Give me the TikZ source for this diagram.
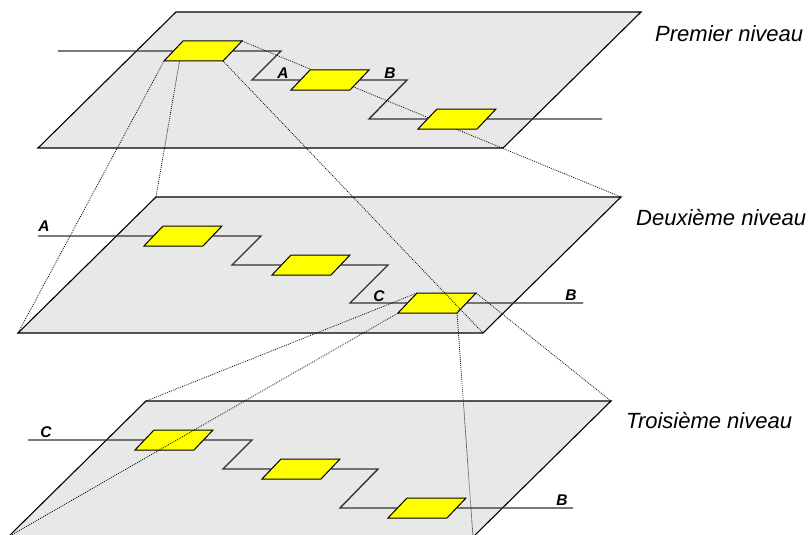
\documentclass[tikz,border=0pt]{standalone}
\usepackage{fontspec}
\setsansfont{Liberation Sans}
\usepackage{tikz}
\usetikzlibrary{calc}
\definecolor{planecolor}{HTML}{E8E8E8}
\definecolor{wirecolor}{HTML}{333333}
\definecolor{chipcolor}{HTML}{FFFF00}
\tikzset{
  plane/.style={fill=planecolor,draw=black,line width=1.1pt,line join=miter},
  wire/.style={draw=wirecolor,line width=1.4pt},
  chip/.style={fill=chipcolor,draw=black,line width=1pt},
  sight/.style={draw=black,line width=0.75pt,dash pattern=on 0.9pt off 1.1pt},
  tag/.style={font=\sffamily\bfseries\itshape\fontsize{15.5}{18}\selectfont,anchor=base,inner sep=0pt},
  level/.style={font=\sffamily\itshape\fontsize{22}{26}\selectfont,anchor=base west,inner sep=0pt}
}
\begin{document}
\begin{tikzpicture}[x=1pt,y=-1pt]
\useasboundingbox (0,0) rectangle (811,535);
\clip (0,0) rectangle (811,535);
%% the three planes
\foreach \p/\x/\y in {p1/38/148, p2/18/333, p3/8/537}{
  \coordinate (\p-bl) at (\x,\y);
  \coordinate (\p-br) at (\x+465,\y);
  \coordinate (\p-tr) at (\x+603,\y-136);
  \coordinate (\p-tl) at (\x+138,\y-136);
  \draw[plane] (\p-bl) -- (\p-br) -- (\p-tr) -- (\p-tl) -- cycle;
}
%% corners of the chips
\foreach \n/\cx/\cy in {a1/203/51, a2/330/80, a3/457/119,
                        b1/183/236, b2/311/265, b3/437/303,
                        c1/174/440, c2/301/469, c3/427/508}{
  \coordinate (\n-bl) at (\cx-39,\cy+10);
  \coordinate (\n-br) at (\cx+20,\cy+10);
  \coordinate (\n-tr) at (\cx+39,\cy-10);
  \coordinate (\n-tl) at (\cx-20,\cy-10);
}
%% wires
\draw[wire] (58,51) -- (281,51) -- (252,80) -- (407,80) -- (369,119) -- (602,119);
\draw[wire] (38,236) -- (261,236) -- (232,265) -- (388,265) -- (350,303) -- (583,303);
\draw[wire] (28,440) -- (252,440) -- (223,469) -- (378,469) -- (340,508) -- (573,508);
\foreach \n in {b1,b2,b3,c1,c2,c3}
  \draw[chip] (\n-bl) -- (\n-br) -- (\n-tr) -- (\n-tl) -- cycle;
%% zoom lines
\foreach \c in {bl,tl,tr,br}{
  \draw[sight] (a1-\c) -- (p2-\c);
  \draw[sight] (b3-\c) -- (p3-\c);
}
\foreach \n in {a1,a2,a3}
  \draw[chip] (\n-bl) -- (\n-br) -- (\n-tr) -- (\n-tl) -- cycle;
%% labels
\node[tag] (tA1) at (283,78) {A};
\node[tag] (tB1) at (390,78) {B};
\node[tag] (tA2) at (44,231) {A};
\node[tag] (tC2) at (379,301) {C};
\node[tag] (tB2) at (571,300) {B};
\node[tag] (tC3) at (46,437) {C};
\node[tag] (tB3) at (562,505) {B};
\node[level] (n1) at (655,42) {Premier niveau};
\node[level] (n2) at (636,225) {Deuxième niveau};
\node[level] (n3) at (626,428) {Troisième niveau};
\end{tikzpicture}
\end{document}
